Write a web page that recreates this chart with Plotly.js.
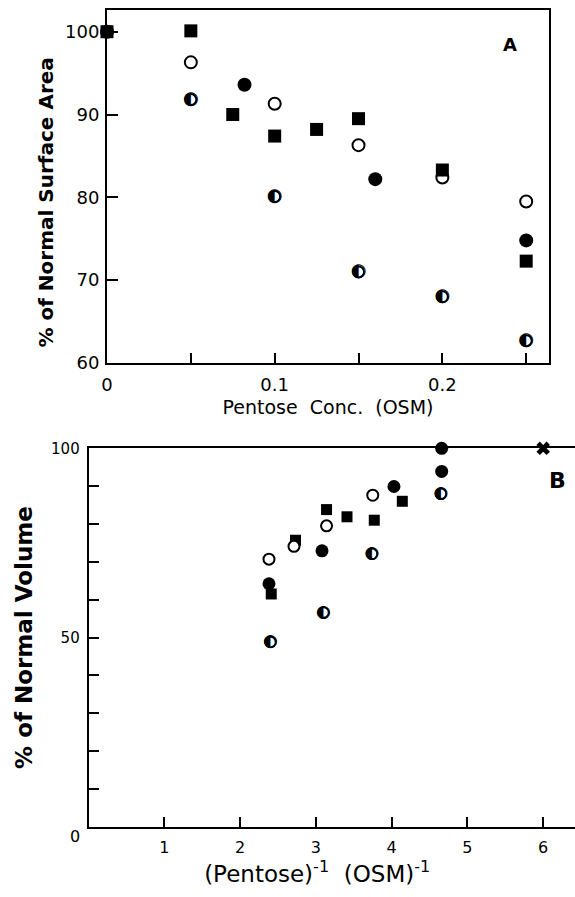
<!DOCTYPE html>
<html>
<head>
<meta charset="utf-8">
<script src="https://cdn.plot.ly/plotly-3.0.1.min.js"></script>
<style>html,body{margin:0;padding:0;background:#fff;}#chart{width:575px;height:897px;}</style>
</head>
<body>
<div id="chart"></div>
<script>
// ---- Panel A: % of normal surface area vs pentose concentration (OSM)
const aSquareX = [0, 0.05, 0.075, 0.10, 0.125, 0.15, 0.20, 0.25];
const aSquareY = [100, 100.1, 90.0, 87.4, 88.2, 89.5, 83.3, 72.3];
const aOpenX = [0, 0.05, 0.10, 0.15, 0.20, 0.25];
const aOpenY = [100, 96.3, 91.3, 86.3, 82.4, 79.5];
const aFilledX = [0.082, 0.160, 0.25];
const aFilledY = [93.6, 82.2, 74.8];
const aHalfX = [0.05, 0.10, 0.15, 0.20, 0.25];
const aHalfY = [91.8, 80.1, 71.0, 68.0, 62.7];
const aXTicks = [0, 0.10, 0.20];
const aXTickText = ["0", "0.1", "0.2"];
const aYTicks = [60, 70, 80, 90, 100];
const aYTickText = ["60", "70", "80", "90", "100"];

// ---- Panel B: % of normal volume vs 1/pentose (OSM^-1)
const bFilledX = [4.66, 4.66, 4.03, 3.08, 2.38];
const bFilledY = [100, 93.9, 89.9, 72.9, 64.2];
const bOpenX = [2.38, 2.71, 3.14, 3.75];
const bOpenY = [70.7, 74.1, 79.5, 87.6];
const bSquareX = [2.41, 2.73, 3.14, 3.41, 3.77, 4.14];
const bSquareY = [61.5, 75.7, 83.8, 81.9, 81.0, 86.0];
const bHalfX = [4.65, 3.74, 3.10, 2.40];
const bHalfY = [88.0, 72.1, 56.6, 48.8];
const bCrossX = [6.0];
const bCrossY = [100];
const bXTicks = [1, 2, 3, 4, 5, 6];
const bXTickText = ["1", "2", "3", "4", "5", "6"];
const bYTicks = [50, 100];
const bYTickText = ["50", "100"];

const FONT = "DejaVu Sans";
const BLACK = "#000";

function pts(x, y, xa, ya, marker) {
  return {x: x, y: y, xaxis: xa, yaxis: ya, type: "scatter", mode: "markers",
          marker: marker, cliponaxis: false, hoverinfo: "skip", showlegend: false};
}
function half(x, y, xa, ya, size) {
  return {x: x, y: y, xaxis: xa, yaxis: ya, type: "scatter", mode: "text",
          text: x.map(() => "\u25D0"), textposition: "middle center",
          textfont: {family: FONT, size: size, color: BLACK},
          cliponaxis: false, hoverinfo: "skip", showlegend: false};
}

const data = [
  pts(aOpenX, aOpenY, "x", "y", {symbol: "circle", size: 12, color: "#fff", line: {color: BLACK, width: 2}}),
  pts(aFilledX, aFilledY, "x", "y", {symbol: "circle", size: 14, color: BLACK, line: {width: 0}}),
  half(aHalfX, aHalfY, "x", "y", 18),
  pts(aHalfX, aHalfY, "x", "y", {symbol: "circle-open", size: 11, color: BLACK, line: {color: BLACK, width: 2}}),
  pts(aSquareX, aSquareY, "x", "y", {symbol: "square", size: 13, color: BLACK, line: {width: 0}}),

  pts(bSquareX, bSquareY, "x2", "y2", {symbol: "square", size: 11, color: BLACK, line: {width: 0}}),
  pts(bOpenX, bOpenY, "x2", "y2", {symbol: "circle", size: 11, color: "#fff", line: {color: BLACK, width: 2}}),
  pts(bFilledX, bFilledY, "x2", "y2", {symbol: "circle", size: 13, color: BLACK, line: {width: 0}}),
  half(bHalfX, bHalfY, "x2", "y2", 17),
  pts(bHalfX, bHalfY, "x2", "y2", {symbol: "circle-open", size: 10.5, color: BLACK, line: {color: BLACK, width: 2}}),
  pts(bCrossX, bCrossY, "x2", "y2", {symbol: "x", size: 12, color: BLACK, line: {width: 0}})
];

const axBase = {showgrid: false, zeroline: false, showline: true, linecolor: BLACK, linewidth: 2,
                ticks: "inside", tickcolor: BLACK, tickwidth: 2, fixedrange: true};

const layout = {
  width: 575, height: 897,
  margin: {l: 0, r: 0, t: 0, b: 0},
  paper_bgcolor: "#fff", plot_bgcolor: "#fff",
  font: {family: FONT, color: BLACK},
  xaxis: Object.assign({}, axBase, {
    domain: [107/575, 549/575], range: [0, 0.2636], anchor: "y", mirror: true,
    tickmode: "array", tickvals: aXTicks, ticktext: aXTickText, ticklen: 10,
    minor: {dtick: 0.05, tick0: 0, ticks: "inside", ticklen: 10, tickwidth: 2, tickcolor: BLACK, showgrid: false},
    tickfont: {size: 18}, ticklabelstandoff: 4,
    title: {text: "Pentose  Conc.  (OSM)", font: {size: 19}, standoff: 7}
  }),
  yaxis: Object.assign({}, axBase, {
    domain: [1 - 363/897, 1 - 10/897], range: [60, 102.62], anchor: "x", mirror: true,
    tickmode: "array", tickvals: aYTicks, ticktext: aYTickText, ticklen: 11,
    tickfont: {size: 18}, ticklabelstandoff: 2,
    title: {text: "<b>% of Normal Surface Area</b>&nbsp;&nbsp;&nbsp;&nbsp;&nbsp;", font: {size: 20}, standoff: 6}
  }),
  xaxis2: Object.assign({}, axBase, {
    domain: [88.7/575, 1], range: [0, 6.42], anchor: "y2", mirror: true,
    tickmode: "array", tickvals: bXTicks, ticktext: bXTickText, ticklen: 10,
    tickfont: {size: 16}, ticklabelstandoff: 5,
    title: {text: "(Pentose)<sup>-1</sup>  (OSM)<sup>-1</sup>&nbsp;&nbsp;&nbsp;&nbsp;", font: {size: 23}, standoff: 10}
  }),
  yaxis2: Object.assign({}, axBase, {
    domain: [1 - 826.7/897, 1 - 448.3/897], range: [0, 100], anchor: "x2", mirror: false,
    tickmode: "array", tickvals: bYTicks, ticktext: bYTickText, ticklen: 10,
    minor: {dtick: 10, tick0: 0, ticks: "inside", ticklen: 10, tickwidth: 2, tickcolor: BLACK, showgrid: false},
    tickfont: {size: 15}, ticklabelstandoff: 4,
    title: {text: "<b>% of Normal Volume</b>", font: {size: 23}, standoff: 12}
  }),
  annotations: [
    {text: "<b>A</b>", xref: "paper", yref: "paper", x: 509.7/575, y: 1 - 45/897,
     xanchor: "center", yanchor: "middle", showarrow: false, font: {size: 18}},
    {text: "<b>B</b>", xref: "paper", yref: "paper", x: 557/575, y: 1 - 480/897,
     xanchor: "center", yanchor: "middle", showarrow: false, font: {size: 22}},
    {text: "0", xref: "paper", yref: "paper", x: 75.3/575, y: 1 - 836/897,
     xanchor: "center", yanchor: "middle", showarrow: false, font: {size: 16}}
  ]
};

Plotly.newPlot("chart", data, layout, {staticPlot: true, displayModeBar: false});
</script>
</body>
</html>
